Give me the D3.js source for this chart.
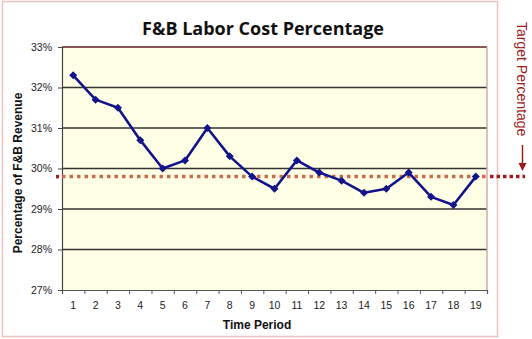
<!DOCTYPE html>
<html><head><meta charset="utf-8">
<script src="https://cdn.jsdelivr.net/npm/d3@7"></script>
<style>body{margin:0;background:#fff}svg{display:block}</style>
</head><body>
<svg id="c" width="532" height="339"></svg>
<script>
const periods = ["1","2","3","4","5","6","7","8","9","10","11","12","13","14","15","16","17","18","19"];
const laborCostPct = [32.3,31.7,31.5,30.7,30.0,30.2,31.0,30.3,29.8,29.5,30.2,29.9,29.7,29.4,29.5,29.9,29.3,29.1,29.8];
const targetPct = 29.8;
const yTicks = [27,28,29,30,31,32,33];
const gridValues = [28,29,30,31,32];

const svg = d3.select("#c");
const L=62,R=487,T=47,B=290;
const x = d3.scaleBand().domain(periods).range([L,R]);
const xb = d3.scaleLinear().domain([0,periods.length]).range([L,R]);
const y = d3.scaleLinear().domain([27,33]).range([B,T]);

// outer frame
svg.append("rect").attr("x",2.5).attr("y",1.5).attr("width",495).attr("height",335)
  .attr("fill","#fff").attr("stroke","#e8c2c2").attr("stroke-width",1.5);

// plot area
svg.append("rect").attr("x",L).attr("y",T).attr("width",R-L).attr("height",B-T).attr("fill","#ffffe6");

// gridlines
svg.append("g").selectAll("line").data(gridValues).join("line")
  .attr("x1",L).attr("x2",R).attr("y1",d=>y(d)).attr("y2",d=>y(d))
  .attr("stroke","#333").attr("stroke-width",1.4);

// plot borders
svg.append("line").attr("x1",L).attr("x2",R).attr("y1",y(33)).attr("y2",y(33)).attr("stroke","#5e2020").attr("stroke-width",1.6);
svg.append("line").attr("x1",R).attr("x2",R).attr("y1",T).attr("y2",B).attr("stroke","#d9a7a7").attr("stroke-width",1.5);

// title
svg.append("text").attr("x",263).attr("y",35).attr("text-anchor","middle")
  .attr("font-family","'Open Sans', 'DejaVu Sans', sans-serif").attr("font-weight","bold").attr("font-size",18)
  .attr("fill","#111").text("F&B Labor Cost Percentage");

// y axis
const ya = svg.append("g").attr("transform",`translate(${L},0)`)
  .call(d3.axisLeft(y).tickValues(yTicks).tickFormat(d=>d+"%").tickSize(4).tickPadding(6));
ya.select(".domain").attr("stroke","#444").attr("stroke-width",1.2);
ya.selectAll(".tick line").attr("stroke","#444");
ya.selectAll("text").attr("font-family","'Liberation Sans', Arial, sans-serif").attr("font-size",10.5).attr("fill","#222");

// x axis: boundary ticks
const xa = svg.append("g").attr("transform",`translate(0,${B})`)
  .call(d3.axisBottom(xb).tickValues(d3.range(periods.length+1)).tickFormat("").tickSize(4));
xa.select(".domain").attr("stroke","#555").attr("stroke-width",1.2);
xa.selectAll(".tick line").attr("stroke","#555");
// x labels
const xl = svg.append("g").attr("transform",`translate(0,${B})`)
  .call(d3.axisBottom(x).tickSize(0).tickPadding(12));
xl.select(".domain").remove();
xl.selectAll("text").attr("font-family","'Liberation Sans', Arial, sans-serif").attr("font-size",10.5).attr("fill","#222");

// axis titles
svg.append("text").attr("transform","translate(22,173) rotate(-90)").attr("text-anchor","middle")
  .attr("font-family","'Liberation Sans', Arial, sans-serif").attr("font-weight","bold").attr("font-size",12)
  .attr("fill","#111").text("Percentage of F&B Revenue");
svg.append("text").attr("x",257).attr("y",329).attr("text-anchor","middle")
  .attr("font-family","'Liberation Sans', Arial, sans-serif").attr("font-weight","bold").attr("font-size",12)
  .attr("fill","#111").text("Time Period");

// target line
svg.append("line").attr("x1",L).attr("x2",R).attr("y1",y(targetPct)).attr("y2",y(targetPct))
  .attr("stroke","#c96d4f").attr("stroke-width",3.5).attr("stroke-dasharray","3.5,4");
svg.append("line").attr("x1",56).attr("x2",L-1).attr("y1",y(targetPct)).attr("y2",y(targetPct))
  .attr("stroke","#a01c1c").attr("stroke-width",3.5).attr("stroke-dasharray","3,3");
svg.append("line").attr("x1",R+3).attr("x2",525).attr("y1",y(targetPct)).attr("y2",y(targetPct))
  .attr("stroke","#a01c1c").attr("stroke-width",3.5).attr("stroke-dasharray","3.5,3");

// target label + arrow
svg.append("text").attr("transform","translate(517,22) rotate(90)")
  .attr("font-family","'Liberation Sans', Arial, sans-serif").attr("font-size",14)
  .attr("fill","#9b1b1b").text("Target Percentage");
svg.append("line").attr("x1",522.5).attr("x2",522.5).attr("y1",145).attr("y2",166)
  .attr("stroke","#9b1b1b").attr("stroke-width",1.5);
svg.append("path").attr("d","M518.5,163 L526.5,163 L522.5,171 Z").attr("fill","#9b1b1b");

// data line
const cx = (d,i)=>x(periods[i])+x.bandwidth()/2;
svg.append("path").datum(laborCostPct)
  .attr("d",d3.line().x(cx).y(d=>y(d)))
  .attr("fill","none").attr("stroke","#13138a").attr("stroke-width",2.6).attr("stroke-linejoin","round");
svg.append("g").selectAll("path").data(laborCostPct).join("path")
  .attr("d",(d,i)=>{const px=cx(d,i),py=y(d),r=4;return `M${px},${py-r}L${px+r},${py}L${px},${py+r}L${px-r},${py}Z`;})
  .attr("fill","#13138a");
</script>
</body></html>
